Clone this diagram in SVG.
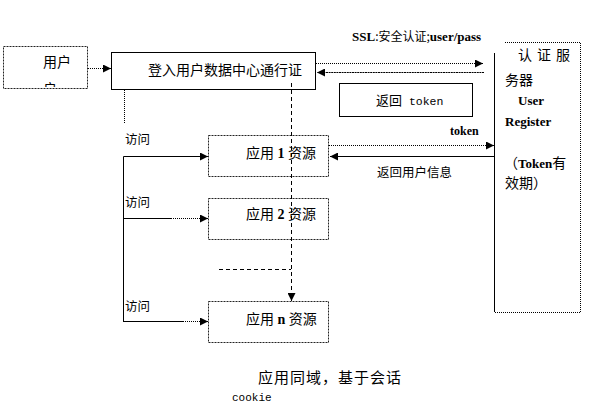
<svg xmlns="http://www.w3.org/2000/svg" width="591" height="416" viewBox="0 0 591 416">
<style>
.cjk{font-family:"Noto Sans CJK SC","Noto Sans",sans-serif;fill:#000}
.b{font-family:"Liberation Serif",serif;font-weight:bold;fill:#000}
.mono{font-family:"Liberation Mono","Noto Sans CJK SC",monospace;fill:#000}
.box{fill:#fff;stroke:#000;stroke-width:1}
.dbox{fill:#fff;stroke:#222;stroke-width:1;stroke-dasharray:2 1}
.dot{fill:none;stroke:#000;stroke-width:1;stroke-dasharray:1 1}
.sol{fill:none;stroke:#000;stroke-width:1}
.dash{fill:none;stroke:#000;stroke-width:1;stroke-dasharray:4 3}
</style>
<defs>
<marker id="ah" viewBox="0 0 8 8" refX="8" refY="4" markerWidth="8" markerHeight="8" markerUnits="userSpaceOnUse" orient="auto">
<path d="M0,0 L8,4 L0,8 z" fill="#000"/>
</marker>
<clipPath id="uclip"><rect x="4" y="47" width="82" height="40"/></clipPath>
</defs>
<rect width="591" height="416" fill="#fff"/>

<g id="user">
<rect x="3.5" y="46.5" width="84" height="42" class="dbox"/>
<g clip-path="url(#uclip)">
<text x="43" y="67" class="cjk" font-size="14">用户</text>
<text x="43" y="94" class="cjk" font-size="14">户</text>
</g>
</g>

<g id="login">
<rect x="111.5" y="52.5" width="204" height="37" class="box"/>
<text x="148" y="75" class="cjk" font-size="14">登入用户数据中心通行证</text>
</g>

<g id="auth">
<line x1="494.5" y1="53" x2="494.5" y2="312" class="sol"/>
<polyline points="505,42.5 580.5,42.5 580.5,312.5 494,312.5" class="dot"/>
<text x="518" y="60" class="cjk" font-size="14" letter-spacing="5">认证服</text>
<text x="505" y="85" class="cjk" font-size="14">务器</text>
<text x="518" y="105" class="b" font-size="13">User</text>
<text x="505" y="126" class="b" font-size="13">Register</text>
<text x="504" y="168" font-size="14"><tspan class="cjk">（</tspan><tspan class="b" font-size="13">Token</tspan><tspan class="cjk">有</tspan></text>
<text x="505" y="188" class="cjk" font-size="14">效期）</text>
</g>

<g id="token-return">
<rect x="339.5" y="83.5" width="133" height="33" class="box"/>
<text x="376" y="105" font-size="13"><tspan class="cjk">返回</tspan><tspan class="mono" font-size="11.5"> token</tspan></text>
</g>

<g id="app1">
<rect x="208.5" y="135.5" width="120" height="41" class="dbox"/>
<text x="246" y="158" font-size="14"><tspan class="cjk">应用</tspan><tspan class="b" font-size="14"> 1 </tspan><tspan class="cjk">资源</tspan></text>
</g>
<g id="app2">
<rect x="208.5" y="198.5" width="120" height="41" class="dbox"/>
<text x="246" y="219" font-size="14"><tspan class="cjk">应用</tspan><tspan class="b" font-size="14"> 2 </tspan><tspan class="cjk">资源</tspan></text>
</g>
<g id="appn">
<rect x="208.5" y="301.5" width="120" height="41" class="dbox"/>
<text x="246" y="324" font-size="14"><tspan class="cjk">应用</tspan><tspan class="b" font-size="14"> n </tspan><tspan class="cjk">资源</tspan></text>
</g>

<g id="connectors">
<line x1="88" y1="68.5" x2="111" y2="68.5" class="dot" marker-end="url(#ah)"/>
<line x1="316" y1="63.5" x2="483" y2="63.5" class="dot" marker-end="url(#ah)"/>
<line x1="484" y1="72.5" x2="317" y2="72.5" class="dot" style="stroke-dasharray:2 0.6" marker-end="url(#ah)"/>
<line x1="124.5" y1="90" x2="124.5" y2="124" class="dot"/>
<line x1="291.5" y1="83" x2="291.5" y2="301" class="dash" marker-end="url(#ah)"/>
<line x1="219" y1="269.5" x2="291" y2="269.5" class="dash"/>
<line x1="329" y1="145.5" x2="494" y2="145.5" class="dot" marker-end="url(#ah)"/>
<line x1="494" y1="156.5" x2="330" y2="156.5" class="sol" marker-end="url(#ah)"/>
<polyline points="123.5,322 123.5,156.5 208,156.5" class="sol" marker-end="url(#ah)"/>
<line x1="123" y1="218.5" x2="171" y2="218.5" class="sol" stroke="#666"/>
<line x1="171" y1="218.5" x2="208" y2="218.5" class="dot" marker-end="url(#ah)"/>
<line x1="123" y1="321.5" x2="183" y2="321.5" class="sol"/>
<line x1="183" y1="321.5" x2="208" y2="321.5" class="dot" marker-end="url(#ah)"/>
</g>

<g id="labels">
<text x="352" y="41" font-size="13"><tspan class="b">SSL</tspan><tspan class="cjk" font-size="12">:安全认证;</tspan><tspan class="b">user/pass</tspan></text>
<text x="450" y="135" class="b" font-size="12">token</text>
<text x="377" y="177" class="cjk" font-size="12.5">返回用户信息</text>
<text x="125" y="144" class="cjk" font-size="12.5">访问</text>
<text x="125" y="207" class="cjk" font-size="12.5">访问</text>
<text x="125" y="311" class="cjk" font-size="12.5">访问</text>
<text x="258" y="383" class="cjk" font-size="15" letter-spacing="1">应用同域，基于会话</text>
<text x="232" y="401" class="mono" font-size="11">cookie</text>
</g>
</svg>
